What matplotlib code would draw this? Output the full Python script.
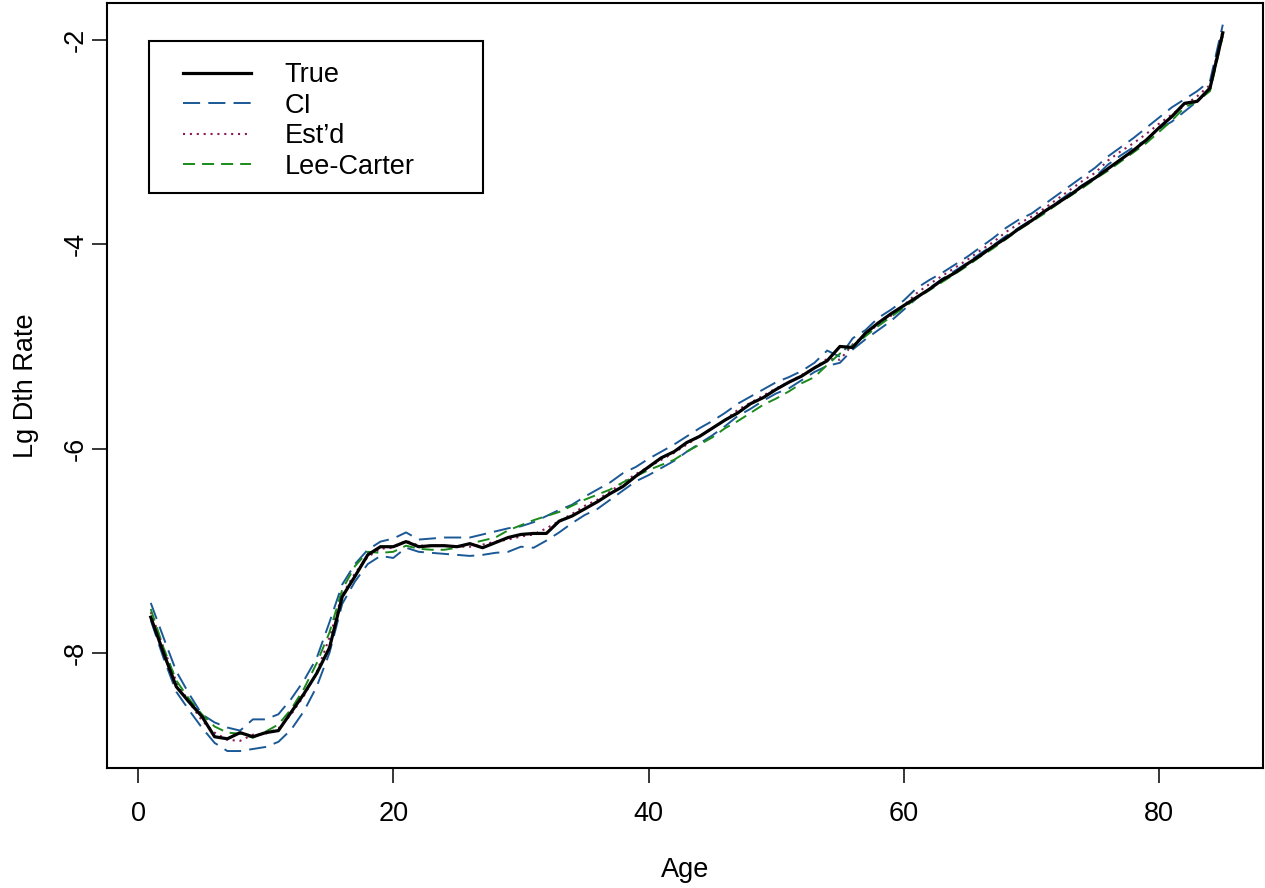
import matplotlib
matplotlib.use("Agg")
import matplotlib.pyplot as plt
from matplotlib.patches import Rectangle

plt.rcParams['font.family'] = ['Liberation Sans', 'DejaVu Sans']

ages = list(range(1, 86))

true_rate = [-7.65, -8.00, -8.33, -8.48, -8.62, -8.82, -8.84, -8.78, -8.82, -8.78,
             -8.76, -8.58, -8.40, -8.20, -7.95, -7.45, -7.25, -7.04, -6.96, -6.96,
             -6.91, -6.96, -6.95, -6.95, -6.96, -6.93, -6.97, -6.92, -6.87, -6.84,
             -6.83, -6.83, -6.71, -6.66, -6.59, -6.52, -6.44, -6.37, -6.27, -6.18,
             -6.09, -6.03, -5.94, -5.88, -5.80, -5.72, -5.65, -5.56, -5.50, -5.42,
             -5.35, -5.29, -5.21, -5.14, -5.00, -5.01, -4.87, -4.77, -4.68, -4.60,
             -4.52, -4.44, -4.35, -4.28, -4.19, -4.11, -4.02, -3.94, -3.85, -3.77,
             -3.68, -3.60, -3.52, -3.43, -3.35, -3.26, -3.17, -3.08, -2.98, -2.86,
             -2.75, -2.62, -2.60, -2.47, -1.93]

ci_upper = [-7.51, -7.85, -8.18, -8.40, -8.60, -8.68, -8.73, -8.76, -8.65, -8.65,
            -8.60, -8.45, -8.27, -8.05, -7.70, -7.33, -7.13, -6.99, -6.91, -6.88,
            -6.82, -6.89, -6.88, -6.87, -6.87, -6.87, -6.84, -6.81, -6.78, -6.76,
            -6.72, -6.66, -6.60, -6.55, -6.47, -6.40, -6.33, -6.24, -6.18, -6.10,
            -6.03, -5.96, -5.88, -5.80, -5.73, -5.65, -5.56, -5.49, -5.42, -5.35,
            -5.30, -5.24, -5.16, -5.04, -5.10, -4.92, -4.84, -4.72, -4.64, -4.55,
            -4.43, -4.35, -4.28, -4.20, -4.12, -4.03, -3.94, -3.84, -3.76, -3.70,
            -3.61, -3.52, -3.43, -3.34, -3.25, -3.14, -3.05, -2.96, -2.86, -2.76,
            -2.66, -2.58, -2.50, -2.40, -1.85]

ci_lower = [-7.68, -8.05, -8.38, -8.56, -8.73, -8.88, -8.96, -8.96, -8.94, -8.92,
            -8.87, -8.75, -8.57, -8.33, -8.00, -7.52, -7.30, -7.13, -7.05, -7.07,
            -6.97, -7.01, -7.02, -7.03, -7.04, -7.05, -7.04, -7.02, -7.01, -6.96,
            -6.97, -6.90, -6.82, -6.73, -6.65, -6.59, -6.50, -6.41, -6.32, -6.26,
            -6.19, -6.12, -6.03, -5.95, -5.87, -5.78, -5.68, -5.61, -5.53, -5.46,
            -5.41, -5.33, -5.25, -5.19, -5.16, -5.03, -4.93, -4.84, -4.75, -4.64,
            -4.53, -4.43, -4.34, -4.26, -4.18, -4.09, -4.01, -3.92, -3.84, -3.76,
            -3.68, -3.59, -3.50, -3.42, -3.34, -3.22, -3.13, -3.05, -2.98, -2.87,
            -2.80, -2.70, -2.60, -2.47, -1.95]

estimated = [-7.60, -7.95, -8.28, -8.48, -8.66, -8.78, -8.85, -8.86, -8.80, -8.79,
             -8.74, -8.60, -8.42, -8.19, -7.85, -7.43, -7.22, -7.06, -6.98, -6.97,
             -6.90, -6.95, -6.95, -6.95, -6.96, -6.96, -6.94, -6.91, -6.89, -6.86,
             -6.84, -6.78, -6.71, -6.64, -6.56, -6.50, -6.42, -6.33, -6.25, -6.18,
             -6.11, -6.04, -5.96, -5.88, -5.80, -5.72, -5.62, -5.55, -5.48, -5.41,
             -5.35, -5.28, -5.21, -5.12, -5.13, -4.98, -4.89, -4.78, -4.70, -4.60,
             -4.48, -4.39, -4.31, -4.23, -4.15, -4.06, -3.98, -3.88, -3.80, -3.73,
             -3.65, -3.56, -3.47, -3.38, -3.30, -3.18, -3.09, -3.01, -2.92, -2.82,
             -2.73, -2.64, -2.55, -2.44, -1.90]

lee_carter = [-7.57, -7.95, -8.27, -8.45, -8.60, -8.72, -8.78, -8.79, -8.83, -8.77,
              -8.70, -8.55, -8.35, -8.10, -7.80, -7.38, -7.15, -7.01, -7.02, -7.01,
              -6.95, -6.98, -6.99, -6.99, -6.97, -6.93, -6.90, -6.87, -6.80, -6.75,
              -6.70, -6.66, -6.62, -6.56, -6.50, -6.45, -6.40, -6.33, -6.27, -6.21,
              -6.16, -6.11, -6.03, -5.96, -5.89, -5.80, -5.73, -5.65, -5.57, -5.51,
              -5.44, -5.36, -5.30, -5.18, -5.07, -4.99, -4.90, -4.80, -4.71, -4.62,
              -4.53, -4.45, -4.37, -4.29, -4.21, -4.12, -4.04, -3.95, -3.86, -3.78,
              -3.70, -3.61, -3.53, -3.45, -3.36, -3.28, -3.19, -3.10, -3.01, -2.90,
              -2.79, -2.66, -2.60, -2.50, -1.96]

x_ticks = [0, 20, 40, 60, 80]
y_ticks = [-8, -6, -4, -2]
legend_labels = ["True", "CI", "Est\u2019d", "Lee-Carter"]

W, H = 1265, 888
fig = plt.figure(figsize=(W / 100, H / 100), dpi=100)
ax = fig.add_axes([107 / W, (888 - 768) / H, (1263 - 107) / W, (768 - 3) / H])

FS = 19.5
blue = "#1a5896"
maroon = "#8b1a5a"
green = "#1a8a1a"

l_true, = ax.plot(ages, true_rate, color="black", lw=2.3, zorder=4)
l_ci, = ax.plot(ages, ci_upper, color=blue, lw=1.4, dashes=(8.8, 4.2), zorder=3)
ax.plot(ages, ci_lower, color=blue, lw=1.4, dashes=(8.8, 4.2), zorder=3)
l_est, = ax.plot(ages, estimated, color=maroon, lw=1.5, dashes=(1, 2.3), zorder=3)
l_lc, = ax.plot(ages, lee_carter, color=green, lw=1.4, dashes=(6.2, 3.6), zorder=3)

ax.set_xlim(-2.43, 88.15)
ax.set_ylim(-9.126, -1.638)
ax.set_xticks(x_ticks)
ax.set_yticks(y_ticks)
ax.set_xticklabels([str(v) for v in x_ticks], fontsize=FS)
ax.set_yticklabels([str(v) for v in y_ticks], fontsize=FS, rotation=90, va="center")
ax.tick_params(axis="both", direction="out", length=10.5, width=1.1, color="black")
ax.tick_params(axis="x", pad=13.5)
ax.tick_params(axis="y", pad=3)
for s in ax.spines.values():
    s.set_linewidth(1.5)
    s.set_color("black")

ax.set_xlabel("Age", fontsize=FS, labelpad=21)
ax.set_ylabel("Lg Dth Rate", fontsize=FS, labelpad=17)

ax.add_patch(Rectangle(((149 - 107) / 1156, 1 - (193 - 3) / 765), (483 - 149) / 1156,
                       (193 - 41) / 765, transform=ax.transAxes, fill=False,
                       ec="black", lw=1.5, zorder=6))
leg = ax.legend([l_true, l_ci, l_est, l_lc], legend_labels, loc="upper left",
                bbox_to_anchor=((183 - 107) / 1156, 1 - (62 - 3) / 765),
                frameon=False, fontsize=FS, handlelength=2.5, handletextpad=1.25,
                borderpad=0, borderaxespad=0, labelspacing=0.17)

fig.savefig("out.png", dpi=100)
